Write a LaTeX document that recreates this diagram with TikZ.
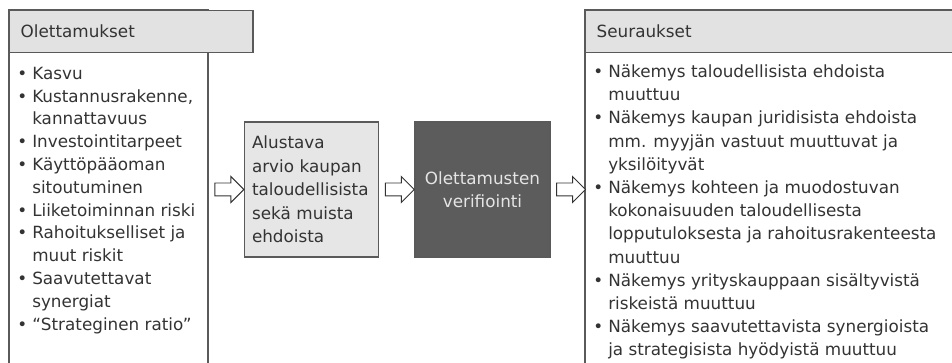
\documentclass[tikz,border=0pt]{standalone}
\usepackage{fontspec}
\setmainfont{DejaVu Sans}
\usetikzlibrary{shapes.arrows,calc}
\definecolor{txt}{HTML}{333333}
\definecolor{frame}{HTML}{5A5A5A}
\definecolor{headfill}{HTML}{E2E2E2}
\definecolor{boxfill}{HTML}{E6E6E6}
\definecolor{darkfill}{HTML}{5C5C5C}
\newcommand\bl[1]{\makebox[11.25pt][l]{•}#1}
\newcommand\ind{\hspace*{11.25pt}}
\begin{document}
\begin{tikzpicture}[x=0.75pt,y=-0.75pt,
  every node/.style={text=txt},
  framestyle/.style={draw=frame,line width=1.1pt},
  headbox/.style={draw=frame,line width=1.1pt,fill=headfill,anchor=north west,
    minimum height=31.5pt,inner xsep=8.25pt,align=left,
    font=\fontsize{12.6}{15}\selectfont},
  listtext/.style={anchor=north west,inner sep=0pt,align=left},
  midbox/.style={draw=frame,line width=0.9pt,minimum width=100pt,minimum height=101.25pt,
    inner xsep=5.25pt,font=\fontsize{12.6}{17.6}\selectfont},
  blockarrow/.style={single arrow,draw=txt,fill=white,line width=0.7pt,
    minimum height=21.75pt,inner xsep=0pt,inner ysep=4.5pt,
    single arrow head extend=4.9pt,anchor=center}
]
\useasboundingbox (0,0) rectangle (952,363);
\clip (0,0) rectangle (952,363);
% left frame
\draw[framestyle] (9,370) -- (9,10) -- (208,10) -- (208,370);
\node[headbox,text width=182.5pt-16.5pt,minimum width=149.25pt] (lhead) at (9,10) {Olettamukset};
\node[listtext,font=\fontsize{12.6}{17.1}\selectfont] (llist) at (17,63) {%
\strut\bl{Kasvu}\\
\bl{Kustannusrakenne,}\\
\ind kannattavuus\\
\bl{Investointitarpeet}\\
\bl{Käyttöpääoman}\\
\ind sitoutuminen\\
\bl{Liiketoiminnan riski}\\
\bl{Rahoitukselliset ja}\\
\ind muut riskit\\
\bl{Saavutettavat}\\
\ind synergiat\\
\bl{“Strateginen ratio”}};
% right frame
\draw[framestyle] (585,370) -- (585,10) -- (970,10);
\node[headbox,text width=280pt] (rhead) at (585,10) {Seuraukset};
\node[listtext,font=\fontsize{12.6}{17.4}\selectfont] (rlist) at (593,61) {%
\strut\bl{Näkemys taloudellisista ehdoista}\\
\ind muuttuu\\
\bl{Näkemys kaupan juridisista ehdoista}\\
\ind mm. myyjän vastuut muuttuvat ja\\
\ind yksilöityvät\\
\bl{Näkemys kohteen ja muodostuvan}\\
\ind kokonaisuuden taloudellisesta\\
\ind lopputuloksesta ja rahoitusrakenteesta\\
\ind muuttuu\\
\bl{Näkemys yrityskauppaan sisältyvistä}\\
\ind riskeistä muuttuu\\
\bl{Näkemys saavutettavista synergioista}\\
\ind ja strategisista hyödyistä muuttuu};
% middle boxes
\node[midbox,fill=boxfill,text width=89.25pt,align=left] (box1) at (311.5,189.5)
  {Alustava\\arvio kaupan\\taloudellisista\\sekä muista\\ehdoista};
\node[midbox,fill=darkfill,text=white!90!black,minimum width=101.25pt,align=center] (box2) at (482.5,189.5)
  {Olettamusten\\verifiointi};
\coordinate (lf) at (208,189.5);
\coordinate (rf) at (585,189.5);
\node[blockarrow] (a1) at ($(lf)!0.5!(box1.west)$) {};
\node[blockarrow] (a2) at ($(box1.east)!0.5!(box2.west)$) {};
\node[blockarrow] (a3) at ($(box2.east)!0.5!(rf)$) {};
\end{tikzpicture}
\end{document}
